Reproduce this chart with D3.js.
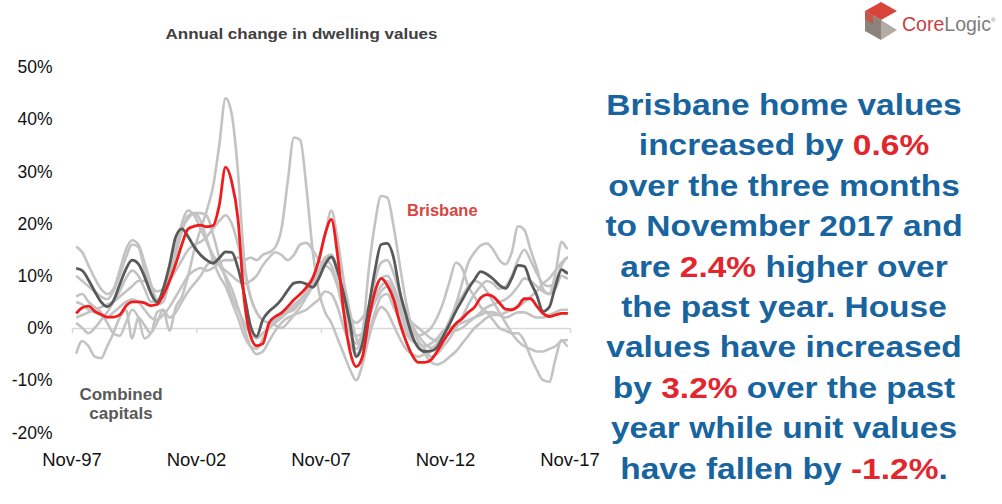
<!DOCTYPE html>
<html><head><meta charset="utf-8">
<script src="https://cdn.jsdelivr.net/npm/d3@7"></script>
<style>body{margin:0;background:#fff} svg{display:block;font-family:"Liberation Sans",Arial,sans-serif}</style>
</head><body>
<svg id="c" width="1002" height="504"></svg>
<script>
// ---------- data ----------
const firstMonth = new Date(1997, 10, 1);   // Nov-97
const lastMonth  = new Date(2017, 10, 1);   // Nov-17
const xTickLabels = ["Nov-97", "Nov-02", "Nov-07", "Nov-12", "Nov-17"];
const xTickYears  = [1997, 2002, 2007, 2012, 2017];
const yTickValues = [-20, -10, 0, 10, 20, 30, 40, 50];

// quarterly annual change (%), Nov-97 .. Nov-17
const brisbane = [
  2.8, 3.9, 4.2, 3.2,   2.6, 2.1, 2.1, 2.5,   4.2, 5.0, 5.0, 4.8,   4.3, 4.5, 6.3, 9.0,
  12.3, 16.0, 19.0, 19.5,   19.7, 19.4, 19.6, 23.5,   30.8, 28, 21, 5.5,   -1.5, -3.4, -3.0, 1.0,
  2.2, 2.9, 4.1, 5.4,   6.5, 7.8, 9.5, 13,   18, 20.8, 14, 3,   -4.5, -7.4, -5.5, 1.5,
  7, 9.5, 8.2, 5.5,   1, -2.5, -5.2, -6.6,   -6.6, -6.1, -4.5, -2.5,   -0.7, 0.8, 1.8, 3.0,
  4.0, 5.8, 6.4, 6.0,   4.8, 3.6, 3.5, 4.2,   5.6, 5.6, 4.2, 2.8,   2.2, 2.5, 2.8, 2.8,
  2.4];
const combinedCapitals = [
  11.4, 11.0, 9.2, 7.0,   5.0, 4.1, 5.2, 8.3,   11.3, 13.0, 12.3, 9.8,   6.7, 5.0, 7.5, 12,
  17.5, 19, 17.5, 15.5,   14, 13, 12.4, 13.4,   14.6, 14.5, 11.5, 6.5,   0.4, -1.6, 1.6, 3.2,
  4.2, 5.5, 7.2, 8.6,   8.8, 8.4, 7.8, 9.5,   12.2, 13.6, 11, 6.5,   0.8, -5.5, -3, 4,
  11, 16, 16.2, 13.5,   7, 2.5, -1.5, -3.8,   -4.5, -4.4, -3.7, -1.5,   0.8, 3.2, 5.3, 7.5,
  9.3, 10.8, 10.3, 9.4,   8.2, 7.6, 9.5, 12,   11.8, 8.8, 6.3, 3.2,   4, 8, 11.2, 10.5,
  5.7];
const sydney = [
  15.6, 14.5, 12, 9.5,   7.5, 6.5, 7.5, 11,   15, 16.8, 16, 12.5,   8.5, 5.5, 6, 10,
  15, 20, 22.5, 21.5,   19, 16.5, 14, 12,   10, 7.5, 4, 0,   -3.5, -5, -4.5, -2.5,
  -0.5, 1, 2, 2.5,   3, 3.5, 4.5, 5.5,   7, 6.5, 4, 0,   -3, -5, -3, 3,
  9, 12.5, 13, 10.5,   6.5, 3, 0.5, -1.5,   -3, -3.8, -3, -1,   1.5, 4.5, 8.5, 12.5,
  14.5, 15.8, 16.2, 15,   13, 12.2, 14.5, 19.5,   18.8, 15, 11.5, 7.5,   6.5, 10.5, 16.5, 15.2,
  12.4];
const melbourne = [
  10, 9, 8, 7,   6, 5.5, 7, 10,   13.5, 16, 15.5, 11,   7, 4.5, 5, 9,
  14, 18.5, 21.5, 22,   20.5, 17, 13, 10,   8, 5, 2, -1.5,   -3.5, -4, -2, 0,
  1.5, 2.5, 3, 3.5,   5, 6, 8, 10.5,   13, 14, 10, 4,   -1, -4, -1, 11,
  20, 25.3, 25, 19.5,   12, 5, 0, -2.5,   -4, -5.5, -5, -3.5,   -2, 0, 2, 4.5,
  6.5, 8, 9, 8.5,   7.5, 8, 10, 13,   15, 13, 10.5, 8.5,   8, 9, 12, 13.5,
  11];
const hobart = [
  -4.9, -2.5, -3.5, -5.5,   -5.8, -3.5, -1, 2,   3.5, -2, 2, 0.5,   -1, 3, 3.5, -0.5,
  4, 6, 10, 15,   19, 22.5, 27, 35,   44, 41, 30, 13,   6, 3, 1.5, 1,
  0.5, 0, 1, 2.5,   4, 6, 8.5, 11,   13.5, 14, 11, 6,   1, -1.5, -1, 2,
  5, 7, 8, 6,   3, 0, -2, -3.5,   -5, -6.5, -7, -6.5,   -5.5, -4.5, -3, -1.5,
  0, 1, 2, 2.5,   2.5, 3, 3.5, 4,   5, 6, 7, 8.5,   9.5, 11, 12.5, 13.5,
  13.7];
const perth = [
  5, 4.5, 3.5, 3,   2.5, 2, 3, 4,   5, 5.5, 5, 3.5,   2, 1.5, 2.5, 4,
  6, 8, 10, 11,   11.5, 11, 11.5, 12.5,   13, 13, 13.5, 13,   13.5, 13, 14, 14.5,
  15.5, 19, 28, 36.5,   36, 27, 15, 7,   3, 1, -2, -5,   -8, -10, -7, -2,
  2, 4, 3, 0.5,   -2, -4, -5, -5.5,   -5, -4.5, -3, -1,   1, 4, 6, 8,
  9, 8.5, 7, 5,   3, 1, -1, -2.5,   -3.5, -4, -4.5, -4.5,   -4, -3.5, -2.5, -2.3,
  -2.5];
const darwin = [
  6, 6.5, 5, 4,   3, 1, -1, -1.5,   1, 3.5, 2, -2,   -1, 1, 3.5, 2,
  3, 5, 7, 8.5,   10, 12, 13, 12,   11, 10, 9, 8.5,   9, 10, 12, 13.5,
  14.5, 14, 13, 14,   16, 16.3, 15, 13,   12, 11, 8, 4,   2, 1, 2, 4,
  6, 8, 9, 7,   4, 1, -1, -1.5,   -1, 0, 2, 5,   9, 12.5, 11.5, 8,
  6, 4, 3, 1.5,   0, -0.5, -1, -1,   -2.5, -5.5, -8, -10,   -10.3, -6, -2.3, -3.5,
  -5.5];
const adelaide = [
  2, 2.5, 3, 3.5,   4, 4.5, 5, 6,   7, 8, 9, 9,   8, 7, 7.5, 9,
  11, 13, 15, 16,   16.5, 17.5, 19, 20.5,   21.6, 20, 16, 11,   6, 3, 1.5, 1,
  1.5, 2.5, 3.5, 4.5,   5.5, 7, 9.5, 13,   18, 22.5, 17, 9,   3, -2, -4, -1,
  3, 6, 6.5, 4,   1.5, -1, -2.5, -3,   -3.5, -3, -2, -0.5,   0, 0.5, 1, 1.5,
  2, 2.5, 3, 3,   2.5, 2, 2.5, 3,   3, 2.5, 2, 2,   2.5, 3, 3.5, 3.5,
  3.2];
const canberra = [
  1, 0, -1, 0,   1.5, 3, 5, 7,   9.5, 11, 10, 7.5,   5, 5, 7, 11,
  15.5, 19, 21, 22,   22, 21.5, 18, 13.5,   9.5, 6, 3.5, 1,   -1, -2, -1, 0,
  1, 2, 3, 4,   5, 6.5, 8.5, 11,   13, 12, 8, 3,   -1, -3, -1, 3,
  7, 9.5, 10, 8,   5, 2.5, 1, 0,   -1, -2, -2.5, -2,   -1, -0.5, 0, 1,
  2, 3, 4, 4.5,   5, 5.5, 6.5, 8,   9.5, 9, 8, 7,   6.5, 7.5, 10, 9.5,
  6];
const otherCapitals = [sydney, melbourne, hobart, perth, darwin, adelaide, canberra];

const title = "Annual change in dwelling values";
const brisbaneLabel = "Brisbane";
const combinedLabel = ["Combined", "capitals"];
const commentary = [
  [["Brisbane home values", 0]],
  [["increased by ", 0], ["0.6%", 1]],
  [["over the three months", 0]],
  [["to November 2017 and", 0]],
  [["are ", 0], ["2.4%", 1], [" higher over", 0]],
  [["the past year. House", 0]],
  [["values have increased", 0]],
  [["by ", 0], ["3.2%", 1], [" over the past", 0]],
  [["year while unit values", 0]],
  [["have fallen by ", 0], ["-1.2%", 1], [".", 0]]
];

// ---------- drawing ----------
const svg = d3.select("#c");
const quarters = d3.timeMonth.every(3).range(firstMonth, d3.timeMonth.offset(lastMonth, 1));
const tickDates = xTickYears.map(yr => new Date(yr, 10, 1));

const x = d3.scaleTime().domain([firstMonth, lastMonth]).range([72, 570]);
const y = d3.scaleLinear().domain([-20, 50]).range([432.4, 67]);

// zero axis with small ticks
const xAxis = svg.append("g").attr("transform", `translate(0,${y(0)})`)
  .call(d3.axisBottom(x).tickValues(tickDates).tickSize(5).tickSizeOuter(0).tickFormat(""));
xAxis.selectAll("path,line").attr("stroke", "#d9d9d9").attr("stroke-width", 1.5);

const line = d3.line().x((d, i) => x(quarters[i])).y(d => y(d)).curve(d3.curveMonotoneX);

svg.append("g").selectAll("path").data(otherCapitals).join("path")
  .attr("d", line).attr("fill", "none").attr("stroke", "#c3c3c3").attr("stroke-width", 2.6)
  .attr("stroke-linejoin", "round");
svg.append("path").datum(combinedCapitals).attr("d", line).attr("fill", "none")
  .attr("stroke", "#595959").attr("stroke-width", 2.8);
svg.append("path").datum(brisbane).attr("d", line).attr("fill", "none")
  .attr("stroke", "#ee1c1c").attr("stroke-width", 2.8);

// y axis labels
const yAxis = svg.append("g").attr("transform", "translate(55.5,0)")
  .call(d3.axisLeft(y).tickValues(yTickValues).tickSize(0).tickPadding(3).tickFormat(d => d + "%"));
yAxis.select(".domain").remove();
yAxis.selectAll("text").attr("font-size", 17.5).attr("fill", "#111")
  .attr("font-family", "'Liberation Sans',Arial,sans-serif");

// x labels, centred on the axis ticks
svg.append("g").selectAll("text").data(xTickLabels).join("text")
  .attr("x", (d, i) => x(tickDates[i])).attr("y", 466).attr("text-anchor", "middle")
  .attr("font-size", 18.5).attr("fill", "#111").text(d => d);

// title
svg.append("text").attr("transform", "translate(301.5,38.5) scale(1,0.88)").attr("text-anchor", "middle")
  .attr("font-size", 17).attr("font-weight", "bold").attr("fill", "#404040").text(title);

// series labels
svg.append("text").attr("x", 407).attr("y", 216).attr("font-size", 16.5)
  .attr("font-weight", "bold").attr("fill", "#d8453f").text(brisbaneLabel);
svg.append("g").selectAll("text").data(combinedLabel).join("text")
  .attr("x", 121).attr("y", (d, i) => 400 + i * 19).attr("text-anchor", "middle")
  .attr("font-size", 17).attr("font-weight", "bold").attr("fill", "#595959").text(d => d);

// commentary
const comm = svg.append("g");
commentary.forEach((segs, i) => {
  const t = comm.append("text")
    .attr("transform", `translate(784,${115 + i * 40.4}) scale(1,0.895)`)
    .attr("text-anchor", "middle").attr("font-size", 33.5).attr("font-weight", "bold");
  segs.forEach(([s, red]) => t.append("tspan").attr("fill", red ? "#e3262d" : "#17649f").text(s));
});

// logo
const logo = svg.append("g");
logo.append("polygon").attr("points", "865,11 881,2 897,11 881,20").attr("fill", "#d9443a");
logo.append("polygon").attr("points", "865,11 881,20 881,40 865,31").attr("fill", "#8c827c");
logo.append("polygon").attr("points", "881,20 889,25 897,30 881,40").attr("fill", "#b3aba6");
logo.append("polygon").attr("points", "865,11 873,15.5 873,24 865,19").attr("fill", "#c9544a");
const lt = logo.append("text").attr("x", 902).attr("y", 31).attr("font-size", 19.5);
lt.append("tspan").attr("fill", "#c8403e").text("Core");
lt.append("tspan").attr("fill", "#7d7d7d").text("Logic");
lt.append("tspan").attr("fill", "#7d7d7d").attr("font-size", 6).attr("dy", -9).text("®");
</script>
</body></html>
